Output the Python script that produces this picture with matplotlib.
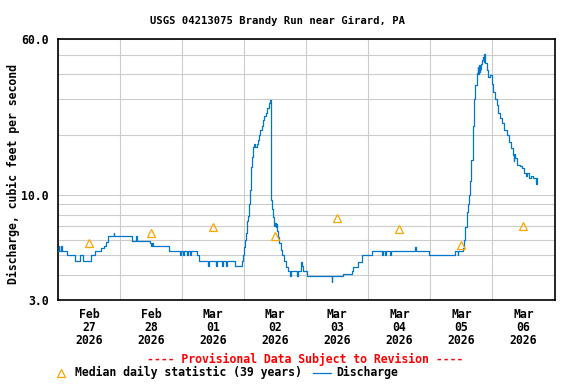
import matplotlib
matplotlib.use("Agg")
import matplotlib.pyplot as plt
from matplotlib.lines import Line2D
from matplotlib.ticker import FixedLocator, NullFormatter

# ---- data (hours since Feb 27 2026 00:00) ----
hours = [
    0.0, 0.2, 0.5, 1.1, 1.4, 3.5, 6.5, 8.7, 9.7, 12.9, 14.5, 16.8, 17.7, 18.5, 19.4,
    21.5, 21.8, 28.8, 30.2, 30.5, 35.5, 36.1, 36.4, 36.7, 42.8, 47.3, 47.6,
    48.4, 48.7, 49.9, 50.2, 51.0, 51.3, 53.6, 54.5,
    58.0, 58.4, 61.0, 61.4, 63.4, 63.8, 64.9, 65.2, 68.4, 71.0,
    71.1, 71.5, 71.9, 72.3, 72.6, 72.9, 73.2, 73.5, 73.9, 74.2, 74.6, 74.8, 75.1,
    75.5, 75.9, 76.1, 76.8, 77.4, 77.8, 78.1, 78.7, 79.3, 79.8, 80.3, 81.0, 81.5, 81.9,
    82.2, 82.5, 82.9, 83.3, 83.7, 84.0, 84.2, 84.4, 84.6, 85.0, 85.5, 86.1, 86.8,
    87.5, 88.3, 89.0, 89.7, 90.0, 92.5, 92.8, 93.8, 94.3, 94.7, 96.1,
    105.8, 106.1, 110.3, 113.5, 114.0, 116.1, 117.7, 121.3,
    125.4, 125.7, 126.6, 126.9, 128.3, 128.9, 138.0, 138.3, 143.6,
    153.5, 154.5, 154.8, 156.7, 157.1, 157.5, 158.0, 158.5, 158.9, 159.3, 159.7,
    159.9, 160.3, 160.5, 160.7, 160.9, 161.3, 161.9, 162.3, 162.5, 162.7, 163.0,
    163.2, 163.5, 163.9, 164.3, 164.6, 164.8, 165.3, 165.8, 166.4, 167.1, 167.7,
    168.3, 169.0, 169.7, 170.3, 170.9, 171.6, 172.5, 173.5, 174.4, 175.1, 175.9,
    176.2, 176.5, 176.8, 177.6, 178.7, 179.4, 180.3, 181.0, 181.3, 182.0, 182.3,
    183.0, 183.8, 184.9, 185.1, 185.4,
]
discharge = [
    5.27, 5.57, 5.27, 5.57, 5.27, 5.03, 4.69, 5.03, 4.69, 5.03, 5.27, 5.45, 5.6, 5.85, 6.25,
    6.5, 6.25, 5.93, 6.25, 5.93, 5.75, 5.57, 5.75, 5.57, 5.27, 5.03, 5.27,
    5.03, 5.27, 5.03, 5.27, 5.03, 5.27, 5.03, 4.69,
    4.41, 4.69, 4.41, 4.69, 4.41, 4.69, 4.41, 4.69, 4.41, 4.41,
    4.7, 5.0, 5.5, 6.0, 6.5, 6.9, 7.4, 7.9, 9.0, 10.6, 12.3, 13.8, 15.5,
    17.4, 17.9, 17.4, 18.0, 18.8, 20.0, 21.1, 22.2, 23.7, 24.7, 25.7, 27.2, 28.7, 29.8,
    12.0, 9.5, 8.5, 7.8, 7.0, 7.3, 6.9, 7.2, 6.6, 6.2, 5.8, 5.3, 5.0,
    4.7, 4.4, 4.17, 3.95, 4.17, 3.95, 4.17, 4.66, 4.45, 4.17, 3.95,
    3.7, 3.95, 4.05, 4.2, 4.4, 4.66, 5.03, 5.24,
    5.03, 5.24, 5.03, 5.24, 5.03, 5.24, 5.5, 5.24, 5.03,
    5.24, 5.03, 5.24, 5.44, 5.97, 6.9, 8.2, 9.0, 10.0, 11.7, 12.9,
    15.0, 18.1, 22.0, 26.0, 30.3, 35.4, 40.4, 43.6, 40.0, 44.4, 41.0,
    42.7, 45.0, 47.0, 48.7, 46.0, 50.7, 45.3, 42.0, 38.9, 39.6, 36.0,
    32.8, 30.3, 28.0, 25.7, 24.2, 22.8, 21.1, 19.9, 18.4, 17.2, 15.9,
    14.8, 16.0, 15.3, 14.2, 14.0, 13.7, 12.9, 12.4, 12.9, 12.4, 12.1,
    12.4, 12.1, 11.4, 12.1, 12.1,
]
median_hours = [12, 36, 60, 84, 108, 132, 156, 180]
median_values = [5.8, 6.45, 6.94, 6.27, 7.7, 6.77, 5.62, 7.04]

day_labels = ["Feb\n27\n2026", "Feb\n28\n2026", "Mar\n01\n2026", "Mar\n02\n2026",
              "Mar\n03\n2026", "Mar\n04\n2026", "Mar\n05\n2026", "Mar\n06\n2026"]
y_ticks = [3, 10, 60]
y_ticklabels = ["3.0", "10.0", "60.0"]
y_grid = [4, 5, 6, 7, 8, 9, 20, 30, 40, 50]

FONT = "DejaVu Sans Mono"
BLUE = "#0077CC"
ORANGE = "#FFA500"

fig = plt.figure(figsize=(5.76, 3.84), dpi=100)
W, H = 576, 384
ax = fig.add_axes([58 / W, 1 - 300 / H, (554.5 - 58) / W, (300 - 39) / H])

ax.plot(hours, discharge, drawstyle="steps-post", color=BLUE, lw=0.9, zorder=3)
ax.plot(median_hours, median_values, linestyle="none", marker="^", ms=6.3,
        mfc="none", mec=ORANGE, mew=0.9, zorder=4)

ax.set_yscale("log")
ax.set_ylim(3, 60)
ax.set_xlim(0, 192)

ax.yaxis.set_major_locator(FixedLocator(y_ticks))
ax.set_yticklabels(y_ticklabels)
ax.yaxis.set_minor_locator(FixedLocator(y_grid))
ax.yaxis.set_minor_formatter(NullFormatter())

ax.xaxis.set_major_locator(FixedLocator([24 * i for i in range(9)]))
ax.xaxis.set_major_formatter(NullFormatter())
ax.xaxis.set_minor_locator(FixedLocator(median_hours))
ax.set_xticklabels(day_labels, minor=True)

ax.grid(True, which="major", axis="x", color="#CCCCCC", lw=0.8)
ax.grid(True, which="both", axis="y", color="#CCCCCC", lw=0.8)
ax.set_axisbelow(True)

ax.tick_params(axis="both", which="both", length=0)
ax.tick_params(axis="y", pad=6.5, labelsize=8.3)
ax.tick_params(axis="x", which="minor", pad=6, labelsize=8.3)
for lab in ax.get_yticklabels() + ax.get_xticklabels(minor=True):
    lab.set_fontfamily(FONT)
    lab.set_fontweight("bold")
for lab in ax.get_xticklabels(minor=True):
    lab.set_linespacing(1.0)

for s in ax.spines.values():
    s.set_color("black")
    s.set_linewidth(1.2)

fig.text(277 / W, 1 - 20.5 / H, "USGS 04213075 Brandy Run near Girard, PA",
         ha="center", va="center", family=FONT, weight="bold", fontsize=7.6)
fig.text(13 / W, 1 - 174 / H, "Discharge, cubic feet per second", rotation=90,
         ha="center", va="center", family=FONT, weight="bold", fontsize=8.3)
fig.text(305.5 / W, 1 - 359 / H, "---- Provisional Data Subject to Revision ----",
         ha="center", va="center", family=FONT, weight="bold", fontsize=8.3, color="red")

ly = 1 - 372.5 / H
fig.add_artist(Line2D([60.7 / W], [ly], transform=fig.transFigure, marker="^", ms=6.3,
                      mfc="none", mec=ORANGE, mew=0.9, linestyle="none"))
fig.text(75 / W, ly, "Median daily statistic (39 years)", ha="left", va="center",
         family=FONT, weight="bold", fontsize=8.3)
fig.add_artist(Line2D([313 / W, 331 / W], [ly, ly], transform=fig.transFigure,
                      color=BLUE, lw=0.9))
fig.text(336.5 / W, ly, "Discharge", ha="left", va="center",
         family=FONT, weight="bold", fontsize=8.3)

fig.savefig("out.png", dpi=100)
